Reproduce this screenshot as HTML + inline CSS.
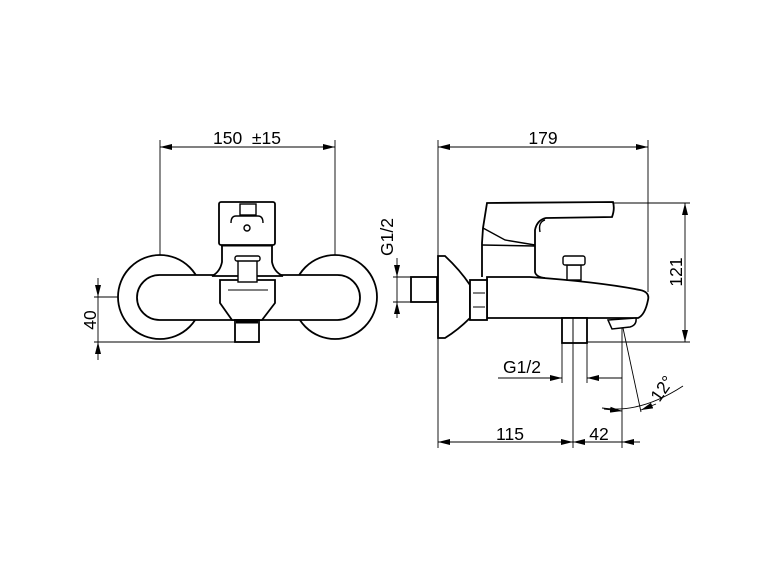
<!DOCTYPE html>
<html><head><style>html,body{margin:0;padding:0;background:#fff}svg{display:block}</style></head>
<body>
<svg width="770" height="578" viewBox="0 0 770 578" xmlns="http://www.w3.org/2000/svg" font-family="Liberation Sans, sans-serif">
<defs>
<marker id="a" viewBox="0 0 12 6" refX="12" refY="3" markerWidth="12" markerHeight="6" orient="auto-start-reverse" markerUnits="userSpaceOnUse"><path d="M0,0L12,3L0,6z" fill="#000"/></marker>
</defs>
<g stroke="#000" fill="none" stroke-width="0.9">
<line x1="160" y1="140" x2="160" y2="256"/>
<line x1="335" y1="140" x2="335" y2="256"/>
<line x1="160" y1="147" x2="335" y2="147" marker-start="url(#a)" marker-end="url(#a)"/>
<line x1="98" y1="278" x2="98" y2="297" marker-end="url(#a)"/>
<line x1="98" y1="360" x2="98" y2="342" marker-end="url(#a)"/>
<line x1="98" y1="297" x2="98" y2="342"/>
<line x1="94" y1="297" x2="120" y2="297"/>
<line x1="94" y1="342" x2="236" y2="342"/>
</g>
<g stroke="#000" fill="#fff" stroke-width="1.8">
<circle cx="160" cy="297" r="42"/>
<circle cx="335" cy="297" r="42"/>
<rect x="137" y="275" width="223" height="45" rx="22.5"/>
<path d="M222,245 L272,245 L272,262 Q274,272 283,276 L212,276 Q220,272 222,262 Z"/>
<rect x="219" y="202" width="56" height="43" rx="2"/>
<path d="M220,280 L275,280 L275,303 L262,320 L232,320 L220,303 Z"/>
<rect x="235" y="320" width="24" height="22"/>
<rect x="238" y="257" width="19" height="25" stroke-width="1.4"/>
<rect x="235" y="256" width="25" height="5" rx="2" stroke-width="1.4"/>
</g>
<g stroke="#000" fill="none" stroke-width="1.4">
<rect x="240" y="204" width="16" height="11"/>
<path d="M231,223 Q231,216 236,216 L258,216 Q263,216 263,223"/>
<circle cx="247" cy="228" r="3"/>
<line x1="221" y1="246" x2="273" y2="246" stroke-width="1"/>
<line x1="228" y1="290" x2="268" y2="290" stroke-width="1"/>
<line x1="236" y1="322" x2="258" y2="322" stroke-width="3"/>
</g>
<text x="247" y="144" font-size="17.5" text-anchor="middle" xml:space="preserve">150  ±15</text>
<text font-size="17.5" transform="translate(96,320) rotate(-90)" text-anchor="middle">40</text>

<g stroke="#000" fill="none" stroke-width="0.9">
<line x1="438" y1="140" x2="438" y2="448"/>
<line x1="648" y1="140" x2="648" y2="292"/>
<line x1="438" y1="147" x2="648" y2="147" marker-start="url(#a)" marker-end="url(#a)"/>
<line x1="397" y1="258" x2="397" y2="277" marker-end="url(#a)"/>
<line x1="397" y1="318" x2="397" y2="302" marker-end="url(#a)"/>
<line x1="397" y1="277" x2="397" y2="302"/>
<line x1="393" y1="277" x2="412" y2="277"/>
<line x1="393" y1="302" x2="412" y2="302"/>
<line x1="613" y1="203" x2="690" y2="203"/>
<line x1="587" y1="342" x2="690" y2="342"/>
<line x1="685" y1="203" x2="685" y2="342" marker-start="url(#a)" marker-end="url(#a)"/>
<line x1="562" y1="343" x2="562" y2="383"/>
<line x1="587" y1="343" x2="587" y2="383"/>
<line x1="573" y1="343" x2="573" y2="448"/>
<line x1="622" y1="328" x2="622" y2="448"/>
<line x1="498" y1="378" x2="562" y2="378" marker-end="url(#a)"/>
<line x1="622" y1="378" x2="587" y2="378" marker-end="url(#a)"/>
<line x1="623" y1="328" x2="641" y2="412"/>
<path d="M602,408 Q640,414 683,386"/>
<line x1="604" y1="409" x2="622" y2="411" marker-end="url(#a)"/>
<line x1="656" y1="404" x2="641" y2="410" marker-end="url(#a)"/>
<line x1="438" y1="442" x2="573" y2="442" marker-start="url(#a)" marker-end="url(#a)"/>
<line x1="573" y1="442" x2="622" y2="442" marker-start="url(#a)"/>
<line x1="640" y1="442" x2="622" y2="442" marker-end="url(#a)"/>
</g>
<g stroke="#000" fill="#fff" stroke-width="1.8">
<rect x="411" y="277" width="26" height="25"/>
<path d="M438,256 L445,256 Q460,270 470,285 L470,318 Q458,330 445,338 L438,338 Z"/>
<path d="M482,277 L482,243 L483,228 L487,203 L613,202 Q615,209 612,217 L546,218 Q537,220 535,230 L535,272 Q536,277 545,278"/>
<path d="M487,277 L530,277 Q600,282 640,290 Q650,292 648,300 Q645,315 638,318 L487,318 Z"/>
<rect x="470" y="280" width="17" height="40"/>
<rect x="562" y="318" width="25" height="25"/>
<path d="M608,320 L636,318 Q637,325 630,327 L612,329 Z" stroke-width="1.5"/>
<rect x="567" y="265" width="14" height="15" stroke-width="1.4"/>
<rect x="563" y="256" width="22" height="9" rx="2" stroke-width="1.4"/>
</g>
<g stroke="#000" fill="none" stroke-width="1.4">
<path d="M483,228 L505,240 L535,245"/>
<line x1="482" y1="245" x2="535" y2="246"/>
<path d="M540,232 Q538,222 545,220"/>
<line x1="473" y1="293" x2="485" y2="293" stroke-width="1"/>
<line x1="473" y1="307" x2="485" y2="307" stroke-width="1"/>
<line x1="573" y1="318" x2="573" y2="343" stroke-width="1"/>
</g>
<text x="543" y="144" font-size="17.5" text-anchor="middle">179</text>
<text font-size="17.5" transform="translate(393,237) rotate(-90)" text-anchor="middle">G1/2</text>
<text font-size="17.5" transform="translate(682,272) rotate(-90)" text-anchor="middle">121</text>
<text x="522" y="373" font-size="17.5" text-anchor="middle">G1/2</text>
<text font-size="17.5" transform="translate(667,392) rotate(-55)" text-anchor="middle">12°</text>
<text x="510" y="440" font-size="17.5" text-anchor="middle">115</text>
<text x="599" y="440" font-size="17.5" text-anchor="middle">42</text>
</svg>
</body></html>
